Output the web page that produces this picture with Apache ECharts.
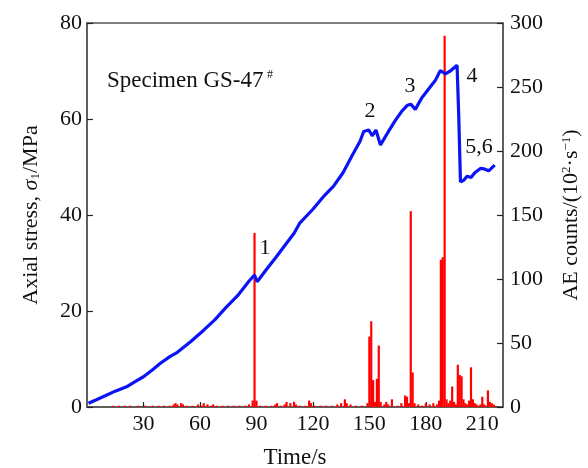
<!DOCTYPE html>
<html>
<head>
<meta charset="utf-8">
<script src="https://cdn.jsdelivr.net/npm/echarts@6/dist/echarts.min.js"></script>
<style>
  html, body { margin: 0; padding: 0; background: #fff; }
  #main { width: 588px; height: 468px; }
</style>
</head>
<body>
<div id="main"></div>
<script>
// 轴向应力曲线 (time s, stress MPa)
var stressTime = [0.8, 5, 10, 15, 21, 26, 30, 35, 39, 44, 48, 55, 62, 68, 74, 80, 86, 89, 90.4, 95, 100, 105, 110, 113, 120, 126, 131, 136, 141, 145, 147, 149.7, 151.5, 153.5, 155.9, 160, 164, 167, 170, 172, 174.4, 178, 182, 185, 187.7, 190.4, 193, 196.6, 197.5, 198.4, 200, 202, 204, 206, 209, 211, 213.4, 216.6];
var stressVal = [0.8, 1.5, 2.4, 3.3, 4.2, 5.4, 6.3, 7.8, 9.1, 10.5, 11.4, 13.6, 16, 18.2, 20.8, 23.2, 26.2, 27.5, 26.1, 28.5, 31, 33.6, 36.2, 38.3, 41.2, 44, 46, 48.8, 52.5, 55.3, 57.4, 57.7, 56.5, 57.7, 54.6, 57.3, 59.8, 61.5, 62.8, 63.1, 62, 64.5, 66.5, 68, 70.1, 69.4, 70, 71.2, 60.5, 46.9, 47.2, 48.1, 47.8, 48.8, 49.7, 49.6, 49.2, 50.4];

// 声发射计数 (time s, counts 10^2/s)
var aeTime = [14, 17, 20, 23, 27, 31, 35, 38, 41, 44, 46, 47, 48, 50, 51, 53, 56, 59, 61, 62, 64, 66, 67, 69, 72, 75, 78, 81, 84, 86, 88, 89, 90, 92, 95, 98, 100, 101, 103, 105, 106, 108, 110, 111, 113, 116, 118, 119, 121, 124, 127, 130, 133, 135, 137, 138, 140, 143, 146, 149, 150, 151, 152, 153, 154, 155, 156, 158, 159, 160, 162, 165, 167, 169, 170, 171, 172, 173, 174, 176, 178, 180, 182, 184, 186, 187, 188, 189, 190, 191, 192, 193, 194, 195, 196, 197, 198, 199, 200, 201, 202, 203, 204, 205, 206, 207, 208, 209, 210, 211, 212, 213, 214, 215, 216, 217];
var aeVal = [1, 1, 1, 1, 1, 1, 1, 1, 1, 1, 2, 3, 2, 3, 2, 1, 1, 2, 1, 3, 2, 1, 2, 1, 1, 1, 1, 1, 1, 2, 5, 136, 5, 1, 1, 1, 2, 3, 1, 2, 4, 3, 4, 2, 1, 1, 5, 3, 1, 1, 1, 1, 2, 3, 6, 3, 2, 1, 1, 3, 55, 67, 21, 4, 22, 48, 4, 2, 4, 2, 6, 1, 3, 9, 8, 3, 153, 27, 3, 2, 1, 3, 2, 3, 2, 5, 115, 117, 290, 6, 3, 5, 16, 4, 2, 33, 25, 24, 6, 3, 2, 5, 31, 6, 3, 2, 1, 2, 8, 2, 1, 13, 4, 3, 2, 1];

var xTicks = { min: 0, max: 221, interval: 30 };
var leftTicks = { min: 0, max: 80, interval: 20 };
var rightTicks = { min: 0, max: 300, interval: 50 };

var serif = '"Liberation Serif", "DejaVu Serif", serif';
var axisColor = '#555';
var labelSize = 22;

var stressData = stressTime.map(function(t, i) { return [t, stressVal[i]]; });
var aeData = aeTime.map(function(t, i) { return [t, aeVal[i]]; });

var chart = echarts.init(document.getElementById('main'));

// 图中标注文字
var note = function(text, x, y, size) {
    return {
        type: 'text', x: x, y: y,
        style: { text: text, font: (size || labelSize) + 'px ' + serif, fill: '#111', align: 'center', verticalAlign: 'middle' }
    };
};

var option = {
    animation: false,
    backgroundColor: '#fff',
    grid: {
        left: 87, right: 85, top: 23, bottom: 61,
        outerBoundsMode: 'none',
        containLabel: false,
        show: true, borderColor: axisColor, borderWidth: 1.5
    },
    xAxis: {
        type: 'value',
        min: xTicks.min, max: xTicks.max, interval: xTicks.interval,
        name: 'Time/s',
        nameLocation: 'middle',
        nameGap: 39,
        nameTextStyle: { fontFamily: serif, fontSize: 23, color: '#111' },
        axisLine: { show: true, lineStyle: { color: axisColor, width: 1.5 } },
        axisTick: { show: true, inside: true, length: 5, lineStyle: { color: '#222', width: 1.2 } },
        axisLabel: {
            fontFamily: serif, fontSize: labelSize, color: '#111', margin: 6,
            showMinLabel: false, showMaxLabel: false,
            formatter: function(v) { return v === 0 ? '' : v; }
        },
        splitLine: { show: false }
    },
    yAxis: [{
        type: 'value',
        min: leftTicks.min, max: leftTicks.max, interval: leftTicks.interval,
        name: '{a|Axial stress, }{s|σ}{sub|1}{a|/MPa}',
        nameLocation: 'middle',
        nameRotate: 90,
        nameGap: 45,
        nameTextStyle: {
            rich: {
                a: { fontFamily: serif, fontSize: 22, color: '#111' },
                s: { fontFamily: serif, fontSize: 22, fontStyle: 'italic', color: '#111' },
                sub: { fontFamily: serif, fontSize: 13, color: '#111', verticalAlign: 'bottom', padding: [9, 0, 0, 0] }
            }
        },
        axisLine: { show: true, lineStyle: { color: axisColor, width: 1.5 } },
        axisTick: { show: true, inside: true, length: 6, lineStyle: { color: '#222', width: 1.2 } },
        axisLabel: { fontFamily: serif, fontSize: labelSize, color: '#111', margin: 5 },
        splitLine: { show: false }
    }, {
        type: 'value',
        position: 'right',
        min: rightTicks.min, max: rightTicks.max, interval: rightTicks.interval,
        name: '{a|AE counts/(10}{sup|2}{a|·s}{sup|−1}{a|)}',
        nameLocation: 'middle',
        nameRotate: 90,
        nameGap: 57,
        nameTextStyle: {
            rich: {
                a: { fontFamily: serif, fontSize: 22, color: '#111' },
                sup: { fontFamily: serif, fontSize: 13, color: '#111', verticalAlign: 'top', padding: [0, 0, 9, 0] }
            }
        },
        axisLine: { show: true, lineStyle: { color: axisColor, width: 1.5 } },
        axisTick: { show: true, inside: true, length: 6, lineStyle: { color: '#222', width: 1.2 } },
        axisLabel: { fontFamily: serif, fontSize: labelSize, color: '#111', margin: 7 },
        splitLine: { show: false }
    }],
    series: [{
        name: 'AE counts',
        type: 'bar',
        yAxisIndex: 1,
        data: aeData,
        barWidth: 2.2,
        barGap: '-100%',
        itemStyle: { color: '#ff0000' },
        z: 2
    }, {
        name: 'Axial stress',
        type: 'line',
        yAxisIndex: 0,
        data: stressData,
        showSymbol: false,
        lineStyle: { color: '#0a14f5', width: 3.2 },
        z: 3
    }],
    graphic: [
        { type: 'text', left: 107, top: 69, style: { text: 'Specimen GS-47', font: '23px ' + serif, fill: '#111' } },
        note('#', 270, 75, 12),
        note('1', 265, 248),
        note('2', 370, 111),
        note('3', 410, 86),
        note('4', 472, 76),
        note('5,6', 479, 147)
    ]
};

chart.setOption(option);
</script>
</body>
</html>
